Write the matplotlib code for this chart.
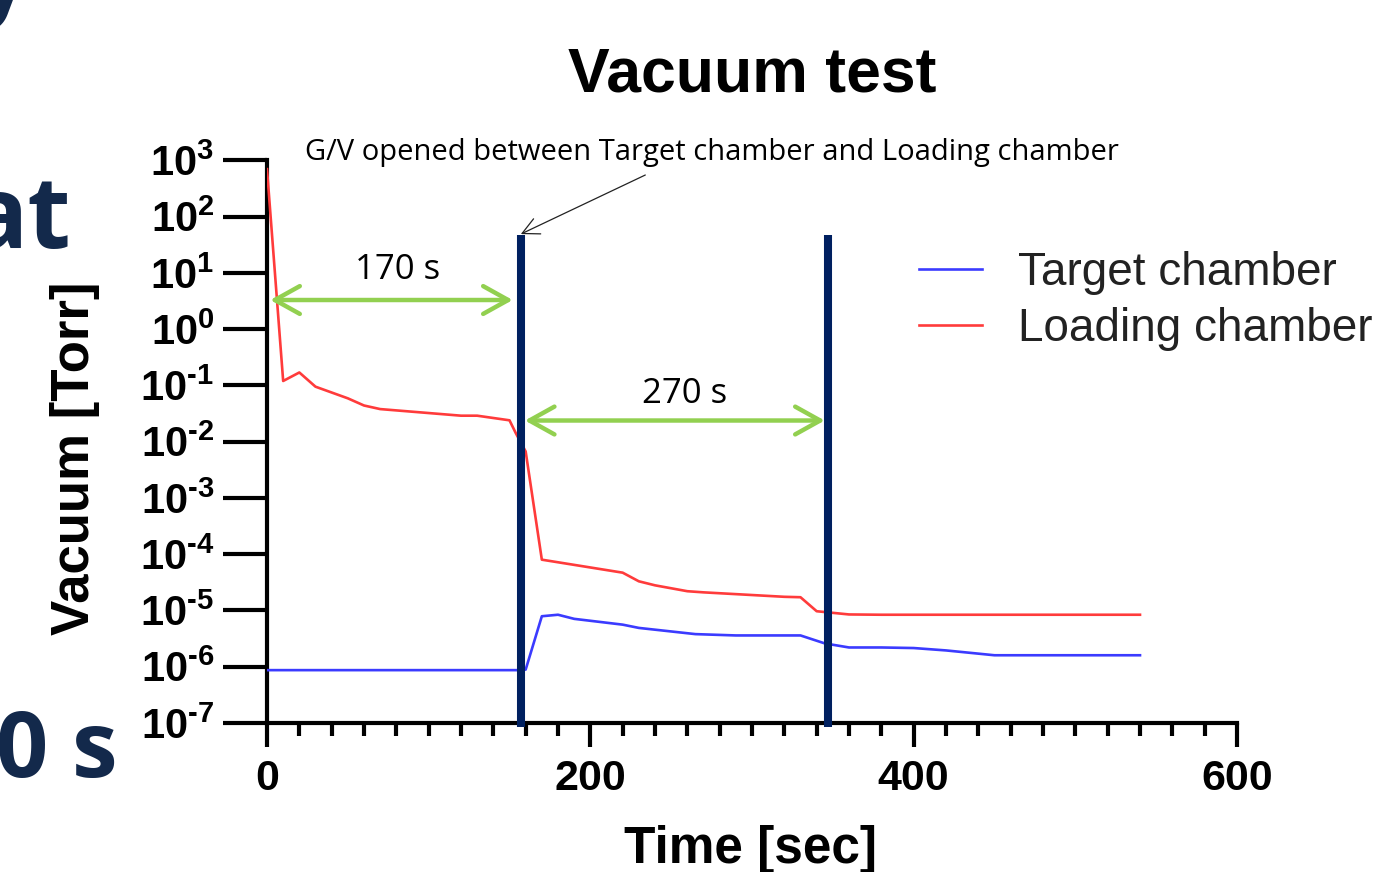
import matplotlib
matplotlib.use("Agg")
import matplotlib.pyplot as plt
from matplotlib.ticker import FixedLocator, FixedFormatter, MultipleLocator

plt.rcParams['mathtext.fontset'] = 'custom'
plt.rcParams['mathtext.rm'] = 'Liberation Sans:bold'
plt.rcParams['mathtext.bf'] = 'Liberation Sans:bold'
plt.rcParams['mathtext.it'] = 'Liberation Sans:bold'
plt.rcParams['font.family'] = ['Liberation Sans', 'DejaVu Sans']

# ---------------- data ----------------
loading_t = [0, 10, 20, 30, 50, 60, 70, 120, 130, 150, 154, 160, 170,
             220, 230, 240, 260, 270, 320, 330, 340, 360, 380, 540]
loading_p = [700, 0.12, 0.17, 0.095, 0.059, 0.044, 0.038, 0.029, 0.029,
             0.024, 0.014, 0.0067, 8e-5, 4.7e-5, 3.3e-5, 2.8e-5, 2.2e-5,
             2.1e-5, 1.75e-5, 1.72e-5, 9.7e-6, 8.5e-6, 8.4e-6, 8.4e-6]

target_t = [0, 155, 160, 170, 180, 190, 220, 230, 265, 290, 330, 345,
            360, 380, 400, 420, 450, 540]
target_p = [8.7e-7, 8.7e-7, 8.9e-7, 7.9e-6, 8.4e-6, 7.1e-6, 5.6e-6, 4.9e-6,
            3.8e-6, 3.6e-6, 3.6e-6, 2.6e-6, 2.2e-6, 2.2e-6, 2.15e-6, 1.95e-6,
            1.6e-6, 1.6e-6]

series_labels = ["Target chamber", "Loading chamber"]
event_times = [157, 347]
interval_labels = ["170 s", "270 s"]
ytick_values = [1e3, 1e2, 1e1, 1e0, 1e-1, 1e-2, 1e-3, 1e-4, 1e-5, 1e-6, 1e-7]
ytick_exps = ["3", "2", "1", "0", "-1", "-2", "-3", "-4", "-5", "-6", "-7"]
ytick_labels = [r'$\mathbf{10^{\text{%s}}}$' % e for e in ytick_exps]
xtick_values = [0, 200, 400, 600]
gv_text = "G/V opened between Target chamber and Loading chamber"

# ---------------- figure ----------------
W, H = 1380, 872
fig = plt.figure(figsize=(W / 100, H / 100), dpi=100)
ax = fig.add_axes([267 / W, (H - 723) / H, 970 / W, (723 - 160.4) / H])

blue = '#3b3bff'
red = '#ff3b3b'
navy = '#002060'
green = '#92d050'

ax.plot(target_t, target_p, color=blue, lw=1.9, label=series_labels[0], zorder=3)
ax.plot(loading_t, loading_p, color=red, lw=1.9, label=series_labels[1], zorder=3)

ax.set_yscale('log')
ax.set_ylim(1e-7, 1e3)
ax.set_xlim(0, 600)

ax.yaxis.set_major_locator(FixedLocator(ytick_values))
ax.yaxis.set_major_formatter(FixedFormatter(ytick_labels))
ax.yaxis.set_minor_locator(FixedLocator([]))
ax.xaxis.set_major_locator(FixedLocator(xtick_values))
ax.xaxis.set_minor_locator(MultipleLocator(20))

for s in ['top', 'right']:
    ax.spines[s].set_visible(False)
for s in ['left', 'bottom']:
    ax.spines[s].set_linewidth(3)

ax.tick_params(axis='y', which='major', length=32, width=3, pad=6, labelsize=30)
ax.tick_params(axis='x', which='major', length=17, width=3, pad=9, labelsize=31)
ax.tick_params(axis='x', which='minor', length=9.5, width=3)
for lab in ax.get_xticklabels():
    lab.set_fontweight('bold')

# vertical event lines
for t in event_times:
    ax.plot([t, t], [47, 10 ** -7.07], color=navy, lw=5.8, solid_capstyle='butt',
            clip_on=False, zorder=5)

# green double arrows
arrow_kw = dict(arrowstyle='<->,head_length=0.9,head_width=0.5', color=green,
                lw=3.2, shrinkA=0, shrinkB=0, mutation_scale=20)
ax.annotate('', xy=(152, 3.3), xytext=(2, 3.3), arrowprops=arrow_kw, zorder=6)
ax.annotate('', xy=(345, 0.0238), xytext=(159.5, 0.0238), arrowprops=arrow_kw, zorder=6)

ax.text(81, 7.8, interval_labels[0], fontsize=25, family=['Open Sans', 'DejaVu Sans'],
        ha='center', va='baseline', color='black')
ax.text(258, 0.049, interval_labels[1], fontsize=25, family=['Open Sans', 'DejaVu Sans'],
        ha='center', va='baseline', color='black')

# G/V annotation
ax.annotate('', xy=(157, 49), xytext=(234, 550),
            arrowprops=dict(arrowstyle='->,head_length=0.6,head_width=0.3',
                            color='#222222', lw=0.9, shrinkA=0, shrinkB=0,
                            mutation_scale=20),
            annotation_clip=False, zorder=7)
ax.text(275, 1400, gv_text, fontsize=21, family=['Open Sans', 'DejaVu Sans'],
        ha='center', va='center', color='black')

# legend
leg = ax.legend(loc='center left', bbox_to_anchor=(919 / W, (H - 301) / H),
                bbox_transform=fig.transFigure, frameon=False, fontsize=33,
                handlelength=1.38, handletextpad=0.78, labelspacing=0.26,
                borderpad=0, borderaxespad=0)
for txt in leg.get_texts():
    txt.set_color('#222222')

# titles / axis labels
fig.text(752 / W, (H - 92) / H, "Vacuum test", fontsize=45, fontweight='bold',
         ha='center', va='baseline')
fig.text(751 / W, (H - 863) / H, "Time [sec]", fontsize=37, fontweight='bold',
         ha='center', va='baseline')
fig.text(75 / W, (H - 458) / H, "Vacuum [Torr]", fontsize=38, fontweight='bold',
         ha='center', va='center', rotation=90)

# leftover slide text fragments
slide_color = '#13294b'
fig.text(30 / W, (H - 7) / H, "y", fontsize=72, fontweight='bold',
         family=['Open Sans', 'DejaVu Sans'], color=slide_color, ha='right', va='baseline')
fig.text(72 / W, (H - 248) / H, "at", fontsize=72, fontweight='bold',
         family=['Open Sans', 'DejaVu Sans'], color=slide_color, ha='right', va='baseline')
fig.text(118 / W, (H - 777) / H, "0 s", fontsize=66, fontweight='bold',
         family=['Open Sans', 'DejaVu Sans'], color=slide_color, ha='right', va='baseline')

fig.savefig('out.png', dpi=100)
